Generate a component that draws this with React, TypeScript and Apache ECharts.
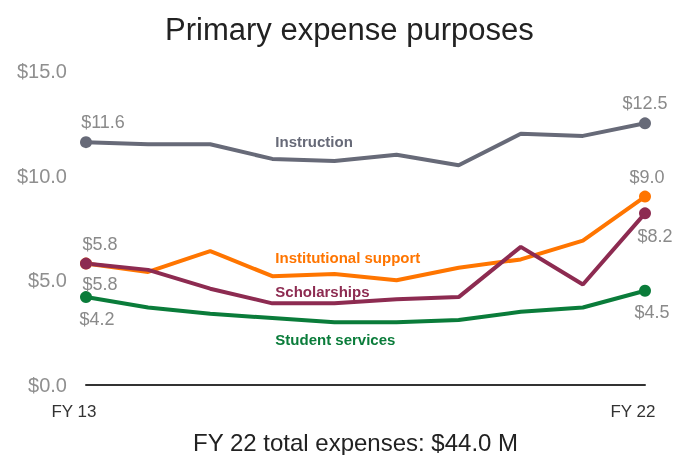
import React, { useEffect, useRef } from "react";
import * as echarts from "echarts";

const categories = ["FY 13", "FY 14", "FY 15", "FY 16", "FY 17", "FY 18", "FY 19", "FY 20", "FY 21", "FY 22"];
const instruction = [11.6, 11.5, 11.5, 10.8, 10.7, 11.0, 10.5, 12.0, 11.9, 12.5];
const institutionalSupport = [5.8, 5.4, 6.4, 5.2, 5.3, 5.0, 5.6, 6.0, 6.9, 9.0];
const scholarships = [5.8, 5.5, 4.6, 3.9, 3.9, 4.1, 4.2, 6.6, 4.8, 8.2];
const studentServices = [4.2, 3.7, 3.4, 3.2, 3.0, 3.0, 3.1, 3.5, 3.7, 4.5];
const yTicks = [0, 5, 10, 15];
const titleText = "Primary expense purposes";
const footerText = "FY 22 total expenses: $44.0 M";

const FONT = "'Liberation Sans', Arial, Helvetica, sans-serif";
const VALUE_COLOR = "#8a8a8a";

type LabelSpec = { pos: "top" | "bottom"; dx: number; dy: number };

function buildData(
  values: number[],
  name: string,
  color: string,
  first: LabelSpec,
  last: LabelSpec,
  nameLabel: LabelSpec
) {
  const lastIdx = values.length - 1;
  return values.map((v, i) => {
    const isEnd = i === 0 || i === lastIdx;
    const item: any = { value: v, symbolSize: isEnd ? 12 : 0 };
    if (isEnd) {
      const spec = i === 0 ? first : last;
      item.label = {
        show: true,
        position: spec.pos,
        offset: [spec.dx, spec.dy],
        formatter: "$" + v.toFixed(1),
        color: VALUE_COLOR,
        fontSize: 18,
        fontFamily: FONT,
      };
    } else if (i === 3) {
      item.label = {
        show: true,
        position: nameLabel.pos,
        align: "left",
        offset: [nameLabel.dx, nameLabel.dy],
        formatter: name,
        color,
        fontSize: 15,
        fontWeight: "bold",
        fontFamily: FONT,
      };
    }
    return item;
  });
}

export default function App() {
  const ref = useRef<HTMLDivElement>(null);
  useEffect(() => {
    if (!ref.current) return;
    const chart = echarts.init(ref.current, undefined, { renderer: "svg" });
    const mk = (
      name: string,
      values: number[],
      color: string,
      first: LabelSpec,
      last: LabelSpec,
      nameLabel: LabelSpec
    ) => ({
      type: "line",
      name,
      data: buildData(values, name, color, first, last, nameLabel),
      showSymbol: true,
      symbol: "circle",
      lineStyle: { color, width: 4 },
      itemStyle: { color },
      emphasis: { disabled: true },
    });
    chart.setOption({
      animation: false,
      title: [
        {
          text: titleText,
          left: 160,
          top: 9,
          textStyle: { fontFamily: FONT, fontSize: 31, fontWeight: "normal", color: "#222" },
        },
        {
          text: footerText,
          left: 188,
          top: 425,
          textStyle: { fontFamily: FONT, fontSize: 24, fontWeight: "normal", color: "#222" },
        },
      ],
      grid: { left: 86, right: 42, top: 71, bottom: 70, containLabel: false },
      xAxis: {
        type: "category",
        data: categories,
        boundaryGap: false,
        axisLine: { show: true, lineStyle: { color: "#333", width: 2 } },
        axisTick: { show: false },
        axisLabel: {
          interval: (i: number) => i === 0 || i === categories.length - 1,
          color: "#333",
          fontSize: 17,
          fontFamily: FONT,
          margin: 18,
          padding: [0, 24, 0, 0],
        },
      },
      yAxis: {
        type: "value",
        min: yTicks[0],
        max: yTicks[yTicks.length - 1],
        interval: 5,
        splitLine: { show: false },
        axisLine: { show: false },
        axisTick: { show: false },
        axisLabel: {
          formatter: (v: number) => "$" + v.toFixed(1),
          color: "#8f8f8f",
          fontSize: 20,
          fontFamily: FONT,
          margin: 19,
        },
      },
      series: [
        mk("Instruction", instruction, "#676a78",
          { pos: "top", dx: 17, dy: 0 }, { pos: "top", dx: 0, dy: 0 }, { pos: "top", dx: 3, dy: -5 }),
        mk("Institutional support", institutionalSupport, "#ff7500",
          { pos: "top", dx: 14, dy: 0 }, { pos: "top", dx: 2, dy: 0 }, { pos: "top", dx: 3, dy: -6 }),
        mk("Scholarships", scholarships, "#8d2b51",
          { pos: "bottom", dx: 14, dy: 0 }, { pos: "bottom", dx: 10, dy: 3 }, { pos: "top", dx: 3, dy: 1 }),
        mk("Student services", studentServices, "#0a7c3a",
          { pos: "bottom", dx: 11, dy: 2 }, { pos: "bottom", dx: 7, dy: 1 }, { pos: "bottom", dx: 3, dy: 9 }),
      ],
    });
    return () => chart.dispose();
  }, []);
  return <div ref={ref} style={{ position: "fixed", left: 0, top: 0, width: 687, height: 455 }} />;
}
